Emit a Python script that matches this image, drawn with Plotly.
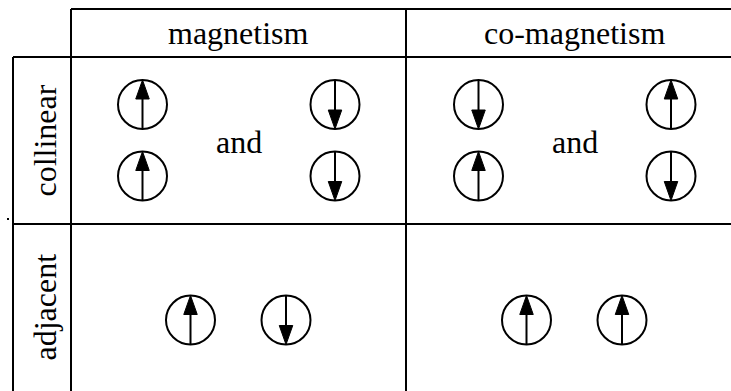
import plotly.graph_objects as go

# ---- data ----
col_labels = ["magnetism", "co-magnetism"]
row_labels = ["collinear", "adjacent"]
joiner = "and"
# collinear row: per column, left pair (top, bottom) and right pair (top, bottom)
collinear_left = [["up", "up"], ["down", "up"]]
collinear_right = [["down", "down"], ["up", "down"]]
# adjacent row: per column, two spins side by side
adjacent_spins = [["up", "down"], ["up", "up"]]

# ---- layout geometry (pixels) ----
W, H = 731, 391
x_edges = [13, 71, 406, 742]
y_edges = [9, 57, 224, 395]
R = 24.5
HEAD_L, HEAD_W = 19, 13.5
LW = 2
FONT = dict(family="Liberation Serif, Times New Roman, serif", size=32, color="black")

shapes = []
annotations = []

def line(x0, y0, x1, y1, w=LW, c="black"):
    shapes.append(dict(type="line", x0=x0, y0=y0, x1=x1, y1=y1, xref="x", yref="y",
                       line=dict(color=c, width=w)))

# table grid
line(x_edges[1], y_edges[0], x_edges[3], y_edges[0])
line(x_edges[0], y_edges[1], x_edges[3], y_edges[1])
line(x_edges[0], y_edges[2], x_edges[3], y_edges[2])
line(x_edges[0], y_edges[1], x_edges[0], y_edges[3])
line(x_edges[1], y_edges[0], x_edges[1], y_edges[3])
line(x_edges[2], y_edges[0], x_edges[2], y_edges[3])
# stray dot
shapes.append(dict(type="rect", x0=7, x1=9, y0=218, y1=220, xref="x", yref="y",
                   fillcolor="black", line=dict(width=0)))

def spin(cx, cy, direction):
    shapes.append(dict(type="circle", x0=cx - R, x1=cx + R, y0=cy - R, y1=cy + R,
                       xref="x", yref="y", line=dict(color="black", width=LW)))
    if direction == "up":
        tip, base, tail = cy - R, cy - R + HEAD_L, cy + R
    else:
        tip, base, tail = cy + R, cy + R - HEAD_L, cy - R
    line(cx, tail, cx, base)
    path = f"M {cx - HEAD_W/2},{base} L {cx + HEAD_W/2},{base} L {cx},{tip} Z"
    shapes.append(dict(type="path", path=path, xref="x", yref="y",
                       fillcolor="black", line=dict(color="black", width=1)))

def text(x, y, s, angle=0):
    annotations.append(dict(x=x, y=y, xref="x", yref="y", text=s, showarrow=False,
                            font=FONT, textangle=angle, xanchor="center", yanchor="middle"))

col_centers = [238.5, 574.5]
row_centers = [(y_edges[1] + y_edges[2]) / 2, (y_edges[2] + y_edges[3]) / 2]

for ci, lab in enumerate(col_labels):
    text(col_centers[ci], 33, lab)
for ri, lab in enumerate(row_labels):
    text((x_edges[0] + x_edges[1]) / 2 + 2, [140.5, 307.5][ri], lab, angle=-90)

for ci in range(2):
    cx = col_centers[ci]
    cy = row_centers[0]
    for k, d in enumerate(collinear_left[ci]):
        spin(cx - 96, cy + (-36 if k == 0 else 35.5), d)
    for k, d in enumerate(collinear_right[ci]):
        spin(cx + 96.5, cy + (-36 if k == 0 else 35.5), d)
    text(cx, cy + 1, joiner)
    for k, d in enumerate(adjacent_spins[ci]):
        spin(cx + (-48 if k == 0 else 47.5), 320, d)

fig = go.Figure()
fig.update_layout(
    width=W, height=H, margin=dict(l=0, r=0, t=0, b=0),
    paper_bgcolor="white", plot_bgcolor="white",
    xaxis=dict(range=[0, W], visible=False, fixedrange=True),
    yaxis=dict(range=[H, 0], visible=False, fixedrange=True),
    shapes=shapes, annotations=annotations, showlegend=False,
)
fig.write_html("out.html", config={"displayModeBar": False})

with open("out.html", "r", encoding="utf-8") as f:
    html = f.read()
html = html.replace("<head>", "<head><style>html,body{margin:0;padding:0;overflow:hidden;}</style>", 1)
with open("out.html", "w", encoding="utf-8") as f:
    f.write(html)
